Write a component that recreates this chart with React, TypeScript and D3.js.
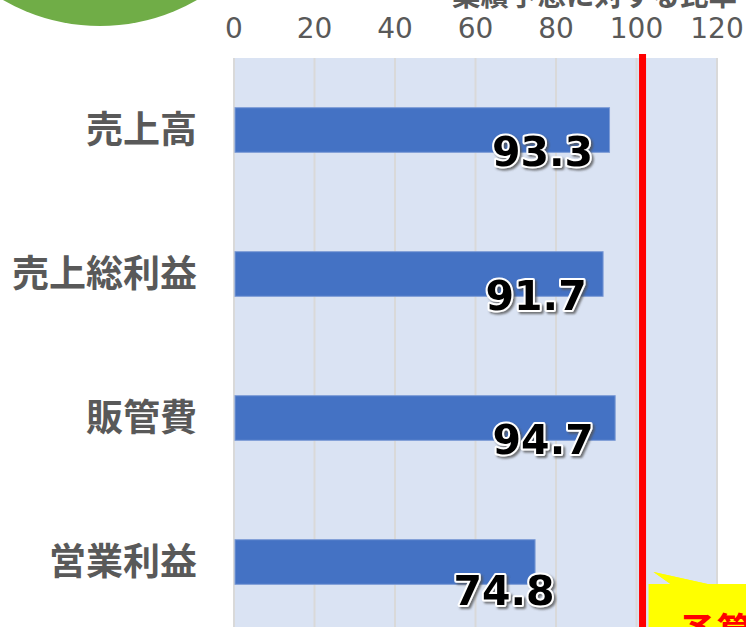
import { useLayoutEffect, useRef } from 'react'
import * as d3 from 'd3'

const categories = ['売上高', '売上総利益', '販管費', '営業利益']
const values = [93.3, 91.7, 94.7, 74.8]
const ticks = [0, 20, 40, 60, 80, 100, 120]
const budgetLine = 101.5
const titleText = '業績予想に対する比率'
const calloutText = '予算'

const W = 746
const H = 627
const BAR = '#4472C4'
const GRAY = '#595959'

// labels were nudged by hand in the original
const labelDx = [-67, -67, -72, -31]
const labelDy = [36, 36, 36, 43]

export default function App() {
  const ref = useRef<SVGSVGElement>(null)

  useLayoutEffect(() => {
    if (!ref.current) return
    const svg = d3.select(ref.current)
    svg.selectAll('*').remove()

    const x = d3.scaleLinear().domain([0, 120]).range([234, 717])
    const y = d3
      .scaleBand()
      .domain(categories)
      .range([58, 634])
      .paddingInner(0.69)
      .paddingOuter(0.345)

    const defs = svg.append('defs')
    const f = defs.append('filter').attr('id', 'shadow').attr('x', '-20%').attr('y', '-20%').attr('width', '140%').attr('height', '140%')
    f.append('feDropShadow')
      .attr('dx', 2)
      .attr('dy', 2)
      .attr('stdDeviation', 1)
      .attr('flood-color', '#555')
      .attr('flood-opacity', 0.8)

    // green badge (cropped)
    svg.append('circle').attr('cx', 100).attr('cy', -168).attr('r', 194).attr('fill', '#70AD47')

    // cropped title
    svg
      .append('text')
      .attr('x', 737)
      .attr('y', 6)
      .attr('text-anchor', 'end')
      .attr('fill', GRAY)
      .attr('font-family', '"Noto Sans CJK JP", sans-serif')
      .attr('font-weight', 700)
      .attr('font-size', 28.5)
      .text(titleText)

    // plot area
    svg
      .append('rect')
      .attr('x', x(0))
      .attr('y', 58)
      .attr('width', x(120) - x(0) + 1)
      .attr('height', H - 58)
      .attr('fill', '#DAE3F3')

    svg
      .selectAll('line.grid')
      .data(ticks)
      .join('line')
      .attr('class', 'grid')
      .attr('x1', (d) => x(d))
      .attr('x2', (d) => x(d))
      .attr('y1', 58)
      .attr('y2', H)
      .attr('stroke', '#D9D9D9')
      .attr('stroke-width', 2)

    svg
      .selectAll('text.tick')
      .data(ticks)
      .join('text')
      .attr('class', 'tick')
      .attr('x', (d) => x(d))
      .attr('y', 38)
      .attr('text-anchor', 'middle')
      .attr('fill', GRAY)
      .attr('font-family', '"DejaVu Sans", sans-serif')
      .attr('font-size', 28)
      .text((d) => d)

    // bars
    svg
      .selectAll('rect.bar')
      .data(values)
      .join('rect')
      .attr('class', 'bar')
      .attr('x', x(0) + 1)
      .attr('y', (_, i) => y(categories[i])!)
      .attr('width', (d) => x(d) - x(0) - 1)
      .attr('height', y.bandwidth())
      .attr('fill', BAR)
      .attr('stroke', '#7C9BD6')
      .attr('stroke-width', 1)

    // category labels
    svg
      .selectAll('text.cat')
      .data(categories)
      .join('text')
      .attr('class', 'cat')
      .attr('x', 197)
      .attr('y', (d) => y(d)! + y.bandwidth() / 2)
      .attr('dy', '0.36em')
      .attr('text-anchor', 'end')
      .attr('fill', GRAY)
      .attr('font-family', '"Noto Sans CJK JP", sans-serif')
      .attr('font-weight', 700)
      .attr('font-size', 37)
      .text((d) => d)

    // value labels
    svg
      .selectAll('text.val')
      .data(values)
      .join('text')
      .attr('class', 'val')
      .attr('x', (d, i) => x(d) + labelDx[i])
      .attr('y', (_, i) => y(categories[i])! + y.bandwidth() / 2 + labelDy[i])
      .attr('text-anchor', 'middle')
      .attr('fill', '#000')
      .attr('stroke', '#fff')
      .attr('stroke-width', 4)
      .attr('stroke-linejoin', 'round')
      .attr('paint-order', 'stroke')
      .attr('filter', 'url(#shadow)')
      .attr('font-family', '"DejaVu Sans", sans-serif')
      .attr('font-weight', 700)
      .attr('font-size', 41)
      .text((d) => d.toFixed(1))

    // budget line
    const bx = x(budgetLine)
    svg
      .append('rect')
      .attr('x', bx - 3.5)
      .attr('y', 54)
      .attr('width', 7)
      .attr('height', H - 54)
      .attr('fill', '#FF0000')

    // callout (cropped)
    const cx = bx + 6
    svg
      .append('path')
      .attr('d', `M${cx + 5},572 L${cx + 22},584 L${W + 10},584 L${W + 10},${H + 10} L${cx},${H + 10} L${cx},584 L${cx + 59},584 Z`)
      .attr('fill', '#FFFF00')
    svg
      .append('path')
      .attr('d', `M${cx + 5},572 L${cx + 22},584 L${cx + 59},584 Z`)
      .attr('fill', '#FFFF00')
    svg
      .append('text')
      .attr('x', cx + 30)
      .attr('y', 645)
      .attr('fill', '#FF0000')
      .attr('font-family', '"Noto Sans CJK JP", sans-serif')
      .attr('font-weight', 700)
      .attr('font-size', 38)
      .text(calloutText)
  }, [])

  return (
    <svg
      ref={ref}
      width={W}
      height={H}
      style={{ position: 'absolute', left: 0, top: 0, background: '#fff' }}
    />
  )
}
